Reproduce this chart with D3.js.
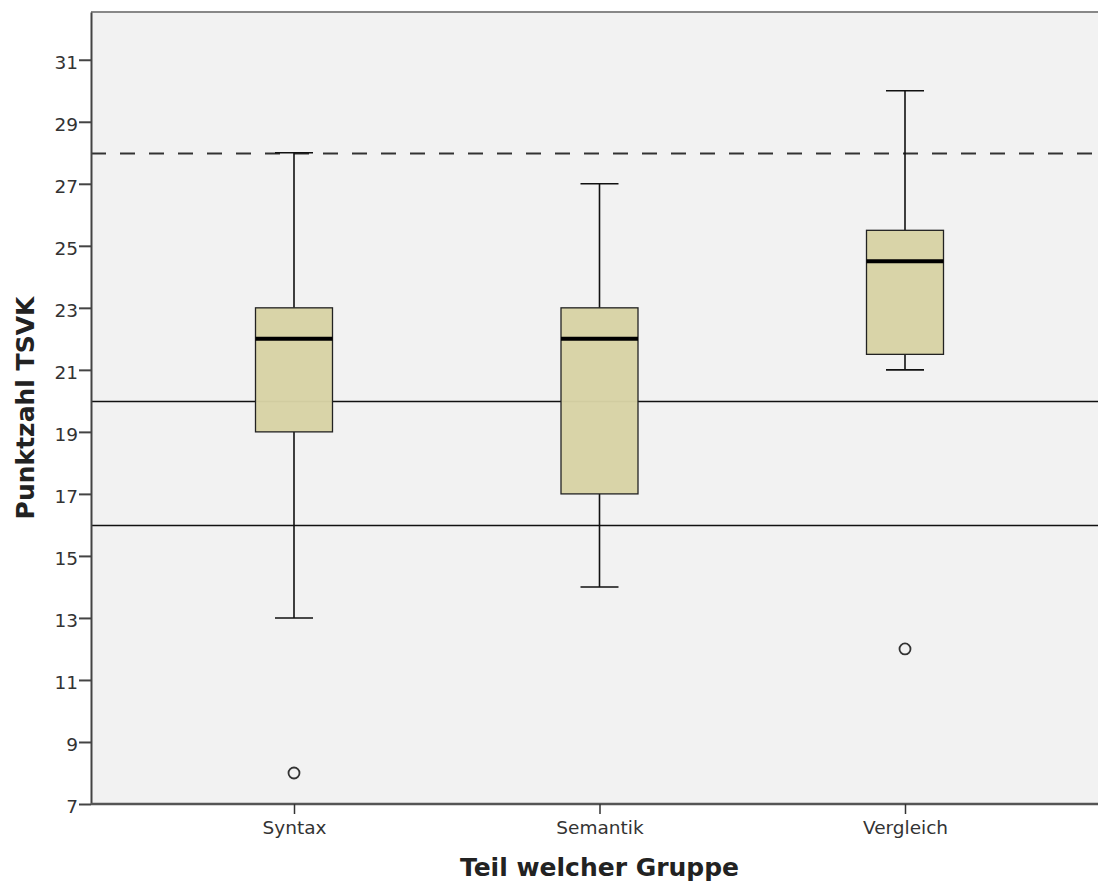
<!DOCTYPE html>
<html>
<head>
<meta charset="utf-8">
<script src="https://cdn.jsdelivr.net/npm/d3@7"></script>
<style>
  body { margin: 0; background: #fff; }
  svg { display: block; font-family: 'DejaVu Sans', sans-serif; }
  .axis text { fill: #333; font-family: 'DejaVu Sans', sans-serif; }
</style>
</head>
<body>
<svg width="1098" height="882"></svg>
<script>
'use strict'

// groups and box statistics
const groups = ['Syntax', 'Semantik', 'Vergleich']
const whiskerLow = [13, 14, 21]
const q1 = [19, 17, 21.5]
const medians = [22, 22, 24.5]
const q3 = [23, 23, 25.5]
const whiskerHigh = [28, 27, 30]
const outliers = [['Syntax', 8], ['Vergleich', 12]]
const refLines = [20, 16]
const dashedLine = [28]
const yTicks = [7, 9, 11, 13, 15, 17, 19, 21, 23, 25, 27, 29, 31]

const boxes = groups.map(function (g, i) {
  return { group: g, lo: whiskerLow[i], q1: q1[i], med: medians[i], q3: q3[i], hi: whiskerHigh[i] }
})

const margin = { top: 12, right: 0, bottom: 78, left: 91 }
const svg = d3.select('svg')
const width = +svg.attr('width')
const height = +svg.attr('height')
const plotW = width - margin.left - margin.right
const plotH = height - margin.top - margin.bottom

const plot = svg.append('g')
  .attr('transform', 'translate(' + margin.left + ',' + margin.top + ')')

const y = d3.scaleLinear().domain([7, 32.54]).range([plotH, 0])
const x = d3.scalePoint().domain(groups).range([203, 814])

plot.append('rect')
  .attr('width', plotW + 10)
  .attr('height', plotH)
  .attr('fill', '#f2f2f2')

// top border
plot.append('line')
  .attr('x1', 0).attr('x2', plotW)
  .attr('y1', 0).attr('y2', 0)
  .attr('stroke', '#888').attr('stroke-width', 2)

// reference lines
plot.selectAll('.ref')
  .data(refLines)
  .enter()
  .append('line')
  .attr('class', 'ref')
  .attr('x1', 0).attr('x2', plotW)
  .attr('y1', function (d) { return Math.round(y(d)) + 0.5 })
  .attr('y2', function (d) { return Math.round(y(d)) + 0.5 })
  .attr('stroke', '#111').attr('stroke-width', 1.4)

plot.selectAll('.dash')
  .data(dashedLine)
  .enter()
  .append('line')
  .attr('class', 'dash')
  .attr('x1', 0).attr('x2', plotW)
  .attr('y1', function (d) { return Math.round(y(d)) + 0.5 })
  .attr('y2', function (d) { return Math.round(y(d)) + 0.5 })
  .attr('stroke', '#333').attr('stroke-width', 2)
  .attr('stroke-dasharray', '15,14')

const boxW = 77
const capW = 38

const bx = plot.selectAll('.box')
  .data(boxes)
  .enter()
  .append('g')
  .attr('class', 'box')
  .attr('transform', function (d) { return 'translate(' + x(d.group) + ',0)' })

bx.append('line')
  .attr('x1', 0).attr('x2', 0)
  .attr('y1', function (d) { return y(d.hi) })
  .attr('y2', function (d) { return y(d.q3) })
  .attr('stroke', '#111').attr('stroke-width', 1.6)
bx.append('line')
  .attr('x1', 0).attr('x2', 0)
  .attr('y1', function (d) { return y(d.q1) })
  .attr('y2', function (d) { return y(d.lo) })
  .attr('stroke', '#111').attr('stroke-width', 1.6)
bx.append('line')
  .attr('x1', -capW / 2).attr('x2', capW / 2)
  .attr('y1', function (d) { return y(d.hi) })
  .attr('y2', function (d) { return y(d.hi) })
  .attr('stroke', '#111').attr('stroke-width', 1.6)
bx.append('line')
  .attr('x1', -capW / 2).attr('x2', capW / 2)
  .attr('y1', function (d) { return y(d.lo) })
  .attr('y2', function (d) { return y(d.lo) })
  .attr('stroke', '#111').attr('stroke-width', 1.6)
bx.append('rect')
  .attr('x', -boxW / 2)
  .attr('width', boxW)
  .attr('y', function (d) { return y(d.q3) })
  .attr('height', function (d) { return y(d.q1) - y(d.q3) })
  .attr('fill', '#d8d3a5')
  .attr('fill-opacity', 0.97)
  .attr('stroke', '#222').attr('stroke-width', 1.3)
bx.append('line')
  .attr('x1', -boxW / 2).attr('x2', boxW / 2)
  .attr('y1', function (d) { return y(d.med) })
  .attr('y2', function (d) { return y(d.med) })
  .attr('stroke', '#000').attr('stroke-width', 4)

plot.selectAll('.outlier')
  .data(outliers)
  .enter()
  .append('circle')
  .attr('class', 'outlier')
  .attr('cx', function (d) { return x(d[0]) })
  .attr('cy', function (d) { return y(d[1]) })
  .attr('r', 5.5)
  .attr('fill', 'none')
  .attr('stroke', '#333').attr('stroke-width', 1.8)

// axes
const axisY = plot.append('g')
  .attr('class', 'axis y')
  .call(d3.axisLeft(y).tickValues(yTicks).tickSize(12).tickPadding(1).tickSizeOuter(0))
axisY.attr('font-family', null)
axisY.select('.domain').attr('stroke', '#444').attr('stroke-width', 2)
axisY.selectAll('line').attr('stroke', '#444').attr('stroke-width', 2)
axisY.selectAll('text').style('font-size', '18.5px').attr('dy', '0.48em')

const axisX = plot.append('g')
  .attr('class', 'axis x')
  .attr('transform', 'translate(0,' + plotH + ')')
  .call(d3.axisBottom(x).tickSize(10).tickPadding(7).tickSizeOuter(0))
axisX.attr('font-family', null)
axisX.select('.domain').attr('d', 'M0,0H' + (plotW + 10)).attr('stroke', '#555').attr('stroke-width', 2.5)
axisX.selectAll('line').attr('stroke', '#333').attr('stroke-width', 1.5)
axisX.selectAll('text').style('font-size', '18.5px')

svg.append('text')
  .attr('text-anchor', 'middle')
  .attr('transform', 'translate(34,408) rotate(-90)')
  .style('font-size', '25px')
  .style('font-weight', 'bold')
  .attr('fill', '#222')
  .text('Punktzahl TSVK')

svg.append('text')
  .attr('text-anchor', 'middle')
  .attr('x', margin.left + x('Semantik'))
  .attr('y', 876)
  .style('font-size', '25px')
  .style('font-weight', 'bold')
  .attr('fill', '#222')
  .text('Teil welcher Gruppe')
</script>
</body>
</html>
